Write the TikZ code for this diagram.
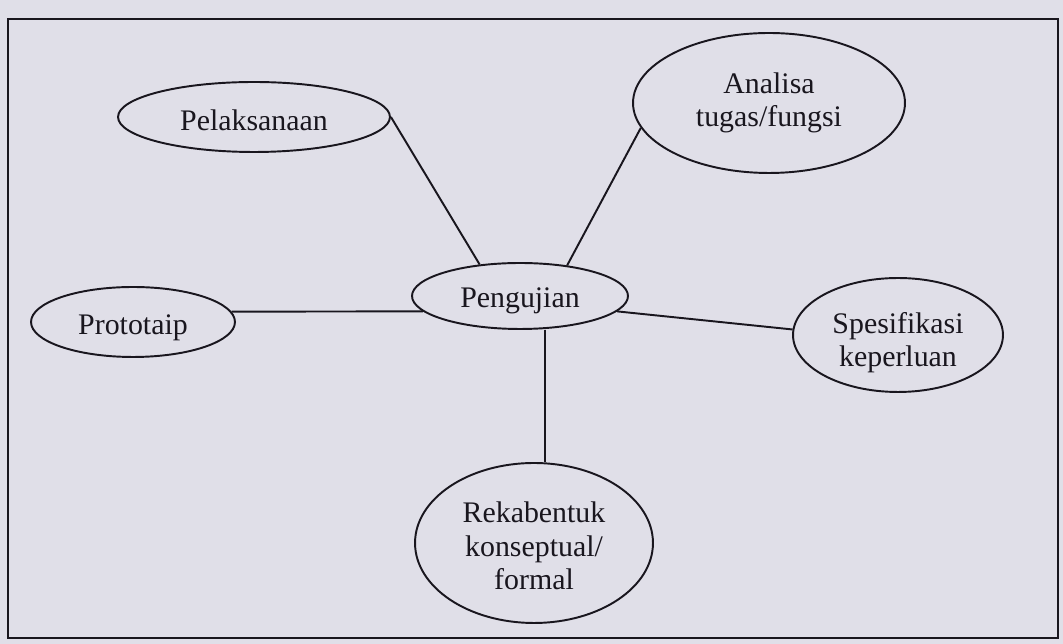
\documentclass[tikz,border=0pt]{standalone}
\usepackage{fontspec}
\setmainfont{Liberation Serif}
\usetikzlibrary{shapes.geometric}
\definecolor{paper}{RGB}{224,223,232}
\definecolor{ink}{RGB}{25,22,30}
\newcommand\lowerby[1]{\rule{0pt}{#1}}
\begin{document}
\begin{tikzpicture}[x=0.02cm,y=-0.02cm,
  bubble/.style={ellipse,draw=ink,line width=1.1pt,inner sep=0pt,align=center,
    font=\fontsize{17}{19}\selectfont,text=ink},
  link/.style={draw=ink,line width=1.1pt}]
\fill[paper] (0,0) rectangle (1063,644);
\useasboundingbox (0,0) rectangle (1063,644);
\draw[ink,line width=1.4pt] (8,19) rectangle (1058,638);
\node[bubble,minimum width=5.44cm,minimum height=1.4cm] (pel) at (254,117) {\lowerby{15pt}Pelaksanaan};
\node[bubble,minimum width=5.44cm,minimum height=2.8cm] (ana) at (769,103) {Analisa\\tugas/fungsi};
\node[bubble,minimum width=4.08cm,minimum height=1.4cm] (pro) at (133,322) {\lowerby{18pt}Prototaip};
\node[bubble,minimum width=4.32cm,minimum height=1.32cm] (pen) at (520,296) {\lowerby{17pt}Pengujian};
\node[bubble,minimum width=4.2cm,minimum height=2.28cm] (spe) at (898,335) {\lowerby{21pt}Spesifikasi\\keperluan};
\node[bubble,minimum width=4.76cm,minimum height=3.2cm] (rek) at (534,543) {\lowerby{15pt}Rekabentuk\\konseptual/\\formal};
\draw[link] (pel.east) -- (pen.142);
\draw[link] (ana.191) -- (pen.33);
\draw[link] (pro.6.5) -- (pen.189);
\draw[link] (spe.177) -- (pen.-9);
\draw[link] (pen.south -| 545,0) -- (rek.north -| 545,0);
\end{tikzpicture}
\end{document}
